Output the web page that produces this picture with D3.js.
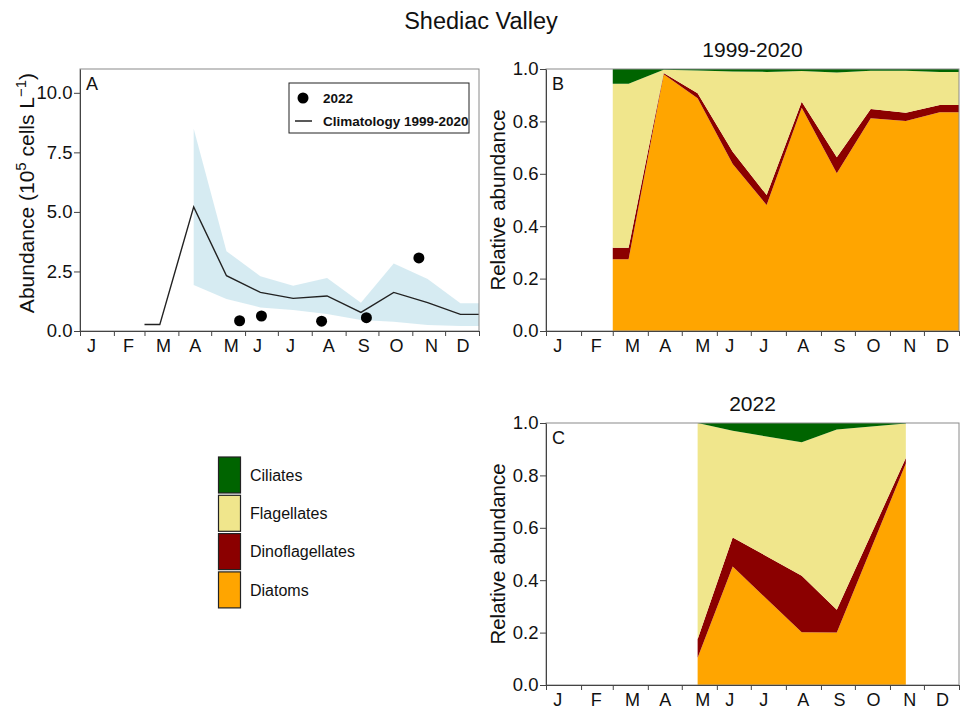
<!DOCTYPE html>
<html>
<head>
<meta charset="utf-8">
<script src="https://cdn.jsdelivr.net/npm/d3@7"></script>
<style>
  html, body { margin: 0; padding: 0; background: #fff; }
  svg { display: block; font-family: "Liberation Sans", Arial, sans-serif; }
</style>
</head>
<body>
<svg id="chart" width="961" height="713"></svg>
<script>
// ---------------- DATA ----------------
const monthLetters = ["J","F","M","A","M","J","J","A","S","O","N","D"];
const monthStartDays = [1,32,60,91,121,152,182,213,244,274,305,335,366];
const monthLabelDays = [11,45,77,106,139,163,193,228,260,290,322,351];

// Panel A: climatology 1999-2020 (mid-month, Mar–Dec), 10^5 cells/L
const climDays = [74,105,135,166,196,227,258,288,319,349];
const climMean = [0.27,5.21,2.32,1.62,1.37,1.47,0.78,1.62,1.19,0.70];
const climStartDay = 60;   // series drawn from 1 March
const yearEndDay = 366;
// ribbon (Apr–Dec)
const ribbonDays  = [105,135,166,196,227,258,288,319,349];
const ribbonUpper = [8.49,3.35,2.30,1.90,2.23,1.19,2.83,2.18,1.16];
const ribbonLower = [1.93,1.34,0.99,0.88,0.71,0.46,0.39,0.25,0.21];
// 2022 observations
const obsDays = [147,167,222,263,311];
const obsVals = [0.43,0.63,0.41,0.56,3.07];

// Panel B: relative abundance climatology (mid-month Mar–Dec)
const groups = ["Diatoms","Dinoflagellates","Flagellates","Ciliates"];
const groupColors = ["#FFA500","#8B0000","#F0E68C","#006400"];
const climRelDays = [74,105,135,166,196,227,258,288,319,349];
const climDiatoms = [0.274,0.980,0.888,0.637,0.481,0.852,0.602,0.812,0.802,0.835];
const climDino    = [0.044,0.005,0.019,0.047,0.038,0.023,0.061,0.035,0.031,0.028];
const climFlag    = [0.626,0.012,0.087,0.306,0.470,0.117,0.324,0.146,0.160,0.126];
const climCil     = [0.056,0.003,0.006,0.010,0.011,0.008,0.013,0.007,0.007,0.011];

// Panel C: 2022 relative abundance (mid-month of sampled months)
const rel2022Days = [135,166,227,258,319];
const rel2022Diatoms = [0.104,0.452,0.201,0.200,0.845];
const rel2022Dino    = [0.071,0.111,0.216,0.087,0.021];
const rel2022Flag    = [0.825,0.407,0.510,0.688,0.132];
const rel2022Cil     = [0.000,0.030,0.073,0.025,0.002];

const yTicksA = [0,2.5,5,7.5,10];
const yTicksRel = [0,0.2,0.4,0.6,0.8,1.0];

// ---------------- DRAW ----------------
const svg = d3.select("#chart");
const TXT = "#111";
const AXC = "#444";
const FRAME = "#8a8a8a";

svg.append("text").attr("x",481).attr("y",29).attr("text-anchor","middle")
  .attr("font-size",23.5).attr("fill",TXT).text("Shediac Valley");

function frame(g, x0, x1, y0, y1){
  g.append("rect").attr("x",x0).attr("y",y0).attr("width",x1-x0).attr("height",y1-y0)
   .attr("fill","none").attr("stroke",FRAME).attr("stroke-width",1);
}

function xAxes(g, x, yBottom){
  const t = g.append("g").attr("transform",`translate(0,${yBottom})`)
    .call(d3.axisBottom(x).tickValues(monthStartDays).tickFormat("").tickSize(5).tickSizeOuter(0));
  t.select(".domain").attr("stroke",AXC);
  t.selectAll(".tick line").attr("stroke",AXC);
  const l = g.append("g").attr("transform",`translate(0,${yBottom})`)
    .call(d3.axisBottom(x).tickValues(monthLabelDays).tickFormat((d,i)=>monthLetters[i]).tickSize(0).tickPadding(8));
  l.select(".domain").remove();
  l.selectAll("text").attr("font-size",18).attr("fill",TXT).attr("font-family","Liberation Sans, Arial, sans-serif");
}

function yAxis(g, y, xLeft, ticks, fmt){
  const a = g.append("g").attr("transform",`translate(${xLeft},0)`)
    .call(d3.axisLeft(y).tickValues(ticks).tickFormat(fmt).tickSize(6).tickSizeOuter(0).tickPadding(1.5));
  a.select(".domain").attr("stroke",AXC);
  a.selectAll(".tick line").attr("stroke",AXC);
  a.selectAll("text").attr("font-size",18.5).attr("fill",TXT).attr("font-family","Liberation Sans, Arial, sans-serif");
}

// ---------- Panel A ----------
(function(){
  const L=80,R=479,T=69,B=331;
  const x = d3.scaleLinear().domain([1,366]).range([L,R]);
  const y = d3.scaleLinear().domain([0,11]).range([B,T]);
  const g = svg.append("g");

  const rib = ribbonDays.map((d,i)=>({d, lo:ribbonLower[i], hi:ribbonUpper[i]}));
  rib.push({d:yearEndDay, lo:ribbonLower[ribbonLower.length-1], hi:ribbonUpper[ribbonUpper.length-1]});
  g.append("path").datum(rib)
    .attr("d", d3.area().x(p=>x(p.d)).y0(p=>y(p.lo)).y1(p=>y(p.hi)))
    .attr("fill","#ADD8E6").attr("fill-opacity",0.5);

  const line = [{d:climStartDay, v:climMean[0]}].concat(climDays.map((d,i)=>({d, v:climMean[i]})));
  line.push({d:yearEndDay, v:climMean[climMean.length-1]});
  g.append("path").datum(line)
    .attr("d", d3.line().x(p=>x(p.d)).y(p=>y(p.v)))
    .attr("fill","none").attr("stroke","#222").attr("stroke-width",1.4);

  g.selectAll("circle.obs").data(obsDays.map((d,i)=>({d,v:obsVals[i]}))).enter()
    .append("circle").attr("class","obs").attr("cx",p=>x(p.d)).attr("cy",p=>y(p.v))
    .attr("r",5.5).attr("fill","#000");

  frame(g,L,R,T,B);
  yAxis(g,y,L,yTicksA,d3.format(".1f"));
  xAxes(g,x,B);

  g.append("text").attr("x",86).attr("y",90).attr("font-size",18).attr("fill",TXT).text("A");

  const yl = g.append("text").attr("transform",`translate(34,193) rotate(-90)`)
    .attr("text-anchor","middle").attr("font-size",21).attr("fill",TXT);
  yl.append("tspan").text("Abundance (10");
  yl.append("tspan").attr("font-size",15).attr("dy",-8).text("5");
  yl.append("tspan").attr("dy",8).text(" cells L");
  yl.append("tspan").attr("font-size",15).attr("dy",-8).text("\u22121");
  yl.append("tspan").attr("dy",8).text(")");

  // legend
  const lg = g.append("g");
  lg.append("rect").attr("x",289).attr("y",83).attr("width",180).attr("height",50)
    .attr("fill","#fff").attr("stroke","#222").attr("stroke-width",1);
  lg.append("circle").attr("cx",303).attr("cy",98).attr("r",5.5).attr("fill","#000");
  lg.append("text").attr("x",323).attr("y",103).attr("font-size",13.5).attr("font-weight","bold").attr("fill",TXT).text("2022");
  lg.append("line").attr("x1",295).attr("x2",312).attr("y1",121).attr("y2",121).attr("stroke","#222").attr("stroke-width",1.5);
  lg.append("text").attr("x",323).attr("y",126).attr("font-size",13.5).attr("font-weight","bold").attr("fill",TXT).text("Climatology 1999-2020");
})();

// ---------- Stacked relative panels ----------
function relPanel(T,B,title,letter,days,cols,extendStart,extendEnd){
  const L=546,R=959;
  const x = d3.scaleLinear().domain([1,366]).range([L,R]);
  const y = d3.scaleLinear().domain([0,1]).range([B,T]);
  const g = svg.append("g");
  let rows = days.map((d,i)=>{ const o={d}; groups.forEach((k,j)=>o[k]=cols[j][i]); return o; });
  if(extendStart!=null) rows.unshift(Object.assign({},rows[0],{d:extendStart}));
  if(extendEnd!=null) rows.push(Object.assign({},rows[rows.length-1],{d:extendEnd}));
  const series = d3.stack().keys(groups)(rows);
  const area = d3.area().x(p=>x(p.data.d)).y0(p=>y(p[0])).y1(p=>y(p[1]));
  g.selectAll("path.layer").data(series).enter().append("path").attr("class","layer")
    .attr("d",area).attr("fill",(s,i)=>groupColors[i]);

  frame(g,L,R,T,B);
  yAxis(g,y,L,yTicksRel,d3.format(".1f"));
  xAxes(g,x,B);
  g.append("text").attr("x",552).attr("y",T+21).attr("font-size",18).attr("fill",TXT).text(letter);
  g.append("text").attr("x",(L+R)/2).attr("y",T-12).attr("text-anchor","middle")
    .attr("font-size",21).attr("fill",TXT).text(title);
  g.append("text").attr("transform",`translate(505,${(T+B)/2}) rotate(-90)`)
    .attr("text-anchor","middle").attr("font-size",20.5).attr("fill",TXT).text("Relative abundance");
}
relPanel(69,331,"1999-2020","B",climRelDays,[climDiatoms,climDino,climFlag,climCil],climStartDay,yearEndDay);
relPanel(423,685,"2022","C",rel2022Days,[rel2022Diatoms,rel2022Dino,rel2022Flag,rel2022Cil],null,null);

// ---------- Group legend ----------
(function(){
  const order = [3,2,1,0];
  const g = svg.append("g");
  order.forEach((gi,k)=>{
    const top = 457 + k*38.3;
    g.append("rect").attr("x",218.5).attr("y",top).attr("width",22).attr("height",36)
      .attr("fill",groupColors[gi]).attr("stroke","#222").attr("stroke-width",1.2);
    g.append("text").attr("x",250).attr("y",top+18).attr("dy","0.35em")
      .attr("font-size",16).attr("fill",TXT).text(groups[gi]);
  });
})();
</script>
</body>
</html>
